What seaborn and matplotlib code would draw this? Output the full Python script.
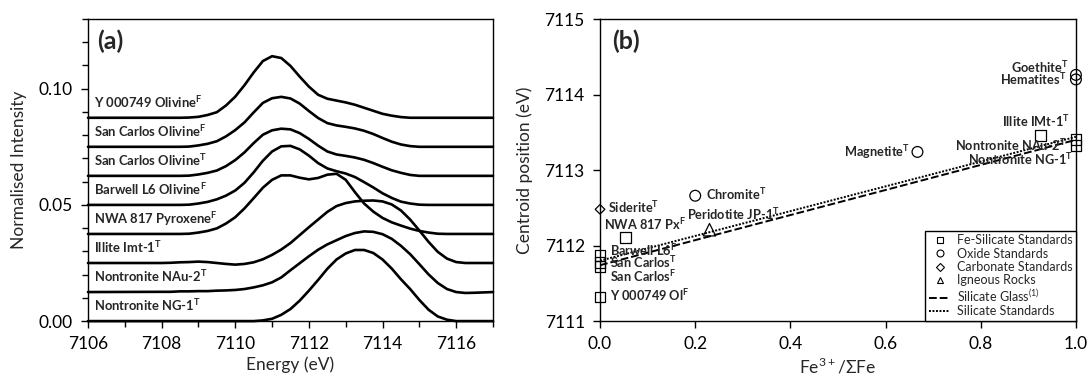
import numpy as np
import pandas as pd
import matplotlib
matplotlib.use("Agg")
import matplotlib.pyplot as plt
from matplotlib.lines import Line2D
from matplotlib.ticker import MultipleLocator, FormatStrFormatter
import seaborn as sns

# ---------------- panel (a): stacked pre-edge spectra ----------------
energy = [7106, 7108, 7108.25, 7108.5, 7108.75, 7109, 7109.25, 7109.5, 7109.75,
          7110, 7110.25, 7110.5, 7110.75, 7111, 7111.25, 7111.5, 7111.75,
          7112, 7112.25, 7112.5, 7112.75, 7113, 7113.25, 7113.5, 7113.75,
          7114, 7114.25, 7114.5, 7114.75, 7115, 7115.25, 7115.5, 7115.75,
          7116, 7116.25, 7116.5, 7117]

# intensities above each baseline, in units of 1e-3
ng1 = [0, 0, 0, 0, 0, 0, 0, 0, 0, 0, 0, 0, 0.3, 1.0, 2.7, 5.2, 8.8, 13.1, 17.7,
       22.5, 26.5, 29.1, 30.6, 30.6, 29.3, 26.5, 22.6, 18.0, 13.8, 9.1, 4.9,
       2.0, 0.6, 0, 0, 0, 0]
nau2 = [0, 0.1, 0.1, 0.3, 0.3, 0.4, 0.4, 0.6, 0.7, 0.9, 1.3, 2.0, 2.9, 4.2, 6.3,
        9.4, 12.4, 15.4, 18.2, 20.5, 22.3, 24.1, 25.4, 26.1, 25.9, 24.9, 22.9,
        19.9, 16.3, 12.0, 7.6, 3.9, 1.3, 0, -0.4, -0.3, 0]
illite = [0, 0, 0.1, 0.3, 0.4, 0.6, 0.4, 0, -0.4, -0.7, -0.4, 0.3, 1.6, 3.5,
          5.8, 8.6, 12.0, 15.4, 18.7, 22.0, 24.5, 25.8, 26.5, 26.8, 26.9, 26.5,
          25.2, 22.6, 18.7, 14.0, 9.1, 4.8, 1.9, 0.4, 0, 0, 0]
nwa817 = [0, 0, 0, 0, 0.1, 0.6, 1.3, 2.4, 4.5, 7.2, 11.0, 15.4, 19.9, 23.3,
          25.2, 25.2, 24.2, 23.5, 24.1, 25.5, 25.9, 23.3, 18.0, 13.1, 9.6, 6.9,
          5.0, 3.6, 2.3, 1.3, 0.6, 0.1, 0, 0, 0, 0, 0]
barwell = [0, 0, 0, 0, 0.1, 0.6, 1.3, 2.4, 4.0, 6.2, 9.5, 14.0, 19.0, 23.0,
           25.2, 25.4, 23.9, 21.2, 18.0, 15.7, 14.5, 13.5, 12.0, 9.8, 7.5, 5.0,
           3.0, 1.4, 0.6, 0.1, 0, 0, 0, 0, 0, 0, 0]
sancarlos_t = [0, 0, 0, 0, 0.1, 0.6, 1.3, 2.3, 4.2, 6.8, 10.1, 14.1, 17.7,
               19.6, 20.3, 20.0, 18.4, 15.9, 13.0, 10.5, 9.2, 8.6, 7.9, 6.9,
               5.5, 3.9, 2.4, 1.3, 0.4, 0, 0, 0, 0, 0, 0, 0, 0]
sancarlos_f = [0, 0, 0, 0, 0.1, 0.6, 1.3, 2.4, 4.5, 7.2, 10.5, 14.8, 18.9,
               20.9, 21.5, 20.8, 18.6, 15.4, 12.4, 10.2, 9.2, 8.6, 7.9, 6.9,
               5.5, 3.8, 2.2, 1.0, 0.3, 0, 0, 0, 0, 0, 0, 0, 0]
y000749 = [0, 0, 0, 0, 0.1, 0.4, 1.2, 2.4, 5.3, 9.1, 14.0, 19.5, 24.4, 26.5,
           25.7, 22.3, 17.7, 13.4, 9.9, 8.2, 7.4, 6.6, 5.6, 4.3, 3.0, 1.7,
           0.9, 0.3, 0, 0, 0, 0, 0, 0, 0, 0, 0]

spectra = [ng1, nau2, illite, nwa817, barwell, sancarlos_t, sancarlos_f, y000749]
spectra_names = [r"Nontronite NG-1$^{\mathbf{T}}$",
                 r"Nontronite NAu-2$^{\mathbf{T}}$",
                 r"Illite Imt-1$^{\mathbf{T}}$",
                 r"NWA 817 Pyroxene$^{\mathbf{F}}$",
                 r"Barwell L6 Olivine$^{\mathbf{F}}$",
                 r"San Carlos Olivine$^{\mathbf{T}}$",
                 r"San Carlos Olivine$^{\mathbf{F}}$",
                 r"Y 000749 Olivine$^{\mathbf{F}}$"]
offsets = [0, 0.0125, 0.025, 0.0375, 0.05, 0.0625, 0.075, 0.0875]

# ---------------- panel (b): centroid vs Fe3+/sumFe ----------------
fe_silicate_x = [0.054, 0, 0, 0, 0, 0.925, 1.0, 1.0]
fe_silicate_y = [7112.11, 7111.87, 7111.78, 7111.72, 7111.32, 7113.46, 7113.40, 7113.33]
oxide_x = [1.0, 1.0, 0.667, 0.200]
oxide_y = [7114.26, 7114.20, 7113.24, 7112.66]
carbonate_x = [0]
carbonate_y = [7112.48]
igneous_x = [0.230]
igneous_y = [7112.21]
glass_fit_x = [0, 1.0]
glass_fit_y = [7111.74, 7113.40]
silicate_fit_x = [0, 1.0]
silicate_fit_y = [7111.80, 7113.44]

point_labels = [r"Goethite$^{\mathbf{T}}$", r"Hematites$^{\mathbf{T}}$",
                r"Illite IMt-1$^{\mathbf{T}}$", r"Nontronite NAu-2$^{\mathbf{T}}$",
                r"Nontronite NG-1$^{\mathbf{T}}$", r"Magnetite$^{\mathbf{T}}$",
                r"Chromite$^{\mathbf{T}}$", r"Siderite$^{\mathbf{T}}$",
                r"NWA 817 Px$^{\mathbf{F}}$", r"Peridotite JP-1$^{\mathbf{T}}$",
                r"Barwell L6$^{\mathbf{F}}$", r"San Carlos$^{\mathbf{T}}$",
                r"San Carlos$^{\mathbf{F}}$", r"Y 000749 Ol$^{\mathbf{F}}$"]
label_x = [0.985, 0.98, 0.988, 0.980, 0.994, 0.652, 0.222, 0.017, 0.009,
           0.182, 0.021, 0.021, 0.021, 0.021]
label_y = [7114.35, 7114.19, 7113.63, 7113.31, 7113.13, 7113.23, 7112.67,
           7112.49, 7112.27, 7112.40, 7111.92, 7111.76, 7111.58, 7111.32]
label_ha = ["right", "right", "right", "right", "right", "right", "left",
            "left", "left", "left", "left", "left", "left", "left"]

sns.set_style("ticks")
plt.rcParams['font.family'] = ['Lato', 'DejaVu Sans']
plt.rcParams['mathtext.fontset'] = 'custom'
plt.rcParams['mathtext.rm'] = 'Lato'
plt.rcParams['mathtext.bf'] = 'Lato:bold'
plt.rcParams['axes.edgecolor'] = 'black'
plt.rcParams['axes.linewidth'] = 1.0
plt.rcParams['xtick.color'] = 'black'
plt.rcParams['ytick.color'] = 'black'

fig = plt.figure(figsize=(10.89, 3.8), dpi=100)
ax1 = fig.add_axes([0.0808, 0.155, 0.3719, 0.795])
ax2 = fig.add_axes([0.551, 0.155, 0.437, 0.795])

for vals, off, name in zip(spectra, offsets, spectra_names):
    yv = np.array(vals) / 1000 + off
    sns.lineplot(x=energy, y=yv, ax=ax1, color='black', lw=1.9, sort=False)
    ax1.text(7106.16, off + 0.0042, name, fontsize=9.4, fontweight='bold',
             ha='left', va='baseline')
for ln in ax1.lines:
    ln.set_clip_on(False)

ax1.set_xlim(7106, 7117)
ax1.set_ylim(0, 0.13)
ax1.xaxis.set_major_locator(MultipleLocator(2))
ax1.xaxis.set_minor_locator(MultipleLocator(1))
ax1.yaxis.set_major_locator(MultipleLocator(0.05))
ax1.yaxis.set_minor_locator(MultipleLocator(0.01))
ax1.yaxis.set_major_formatter(FormatStrFormatter('%.2f'))
ax1.tick_params(which='both', direction='out', labelsize=12.5, width=1, pad=6)
ax1.tick_params(which='major', length=5)
ax1.tick_params(which='minor', length=4)
ax1.set_xlabel("Energy (eV)", fontsize=12.5, labelpad=3)
ax1.set_ylabel("Normalised Intensity", fontsize=12.5, labelpad=8)
ax1.text(0.022, 0.925, "(a)", transform=ax1.transAxes, fontsize=18,
         fontweight='bold', ha='left', va='center')

# fits
sns.lineplot(x=glass_fit_x, y=glass_fit_y, ax=ax2, color='black', lw=1.4,
             linestyle=(0, (4, 1.5)))
sns.lineplot(x=silicate_fit_x, y=silicate_fit_y, ax=ax2, color='black', lw=1.4,
             linestyle=(0, (1, 0.8)))

groups = [(fe_silicate_x, fe_silicate_y, 's', 60),
          (oxide_x, oxide_y, 'o', 60),
          (carbonate_x, carbonate_y, 'D', 24),
          (igneous_x, igneous_y, '^', 80)]
for gx, gy, mk, size in groups:
    sns.scatterplot(x=gx, y=gy, ax=ax2, marker=mk, s=size, facecolor='none',
                    edgecolor='black', linewidth=0.9, clip_on=False, zorder=3,
                    legend=False)

for txt, tx, ty, ha in zip(point_labels, label_x, label_y, label_ha):
    ax2.text(tx, ty - 0.06, txt, fontsize=9.2, fontweight='bold', ha=ha,
             va='baseline')

ax2.set_xlim(0, 1)
ax2.set_ylim(7111, 7115)
ax2.xaxis.set_major_locator(MultipleLocator(0.2))
ax2.yaxis.set_major_locator(MultipleLocator(1))
ax2.xaxis.set_major_formatter(FormatStrFormatter('%.1f'))
ax2.tick_params(which='both', direction='out', labelsize=12.5, width=1,
                length=5, pad=6)
ax2.set_xlabel("Fe$^{3+}$/ΣFe", fontsize=12.5, labelpad=3)
ax2.set_ylabel("Centroid position (eV)", fontsize=12.5, labelpad=8)
ax2.text(0.026, 0.925, "(b)", transform=ax2.transAxes, fontsize=18,
         fontweight='bold', ha='left', va='center')

handles = [
    Line2D([], [], ls='none', marker='s', mfc='none', mec='black', ms=5, mew=0.8),
    Line2D([], [], ls='none', marker='o', mfc='none', mec='black', ms=5, mew=0.8),
    Line2D([], [], ls='none', marker='D', mfc='none', mec='black', ms=4, mew=0.8),
    Line2D([], [], ls='none', marker='^', mfc='none', mec='black', ms=5, mew=0.8),
    Line2D([], [], color='black', lw=1.4, ls=(0, (4, 1.5))),
    Line2D([], [], color='black', lw=1.4, ls=(0, (1, 0.8))),
]
names = ["Fe-Silicate Standards", "Oxide Standards", "Carbonate Standards",
         "Igneous Rocks", r"Silicate Glass$^{(1)}$", "Silicate Standards"]
leg = ax2.legend(handles, names, loc='lower right', fontsize=9, frameon=True,
                 fancybox=False, framealpha=1, edgecolor='black',
                 borderaxespad=0, handlelength=1.7, handletextpad=0.5,
                 labelspacing=0.1, borderpad=0.3)
leg.get_frame().set_linewidth(1.0)

fig.savefig("out.png", dpi=100)
plt.close()
